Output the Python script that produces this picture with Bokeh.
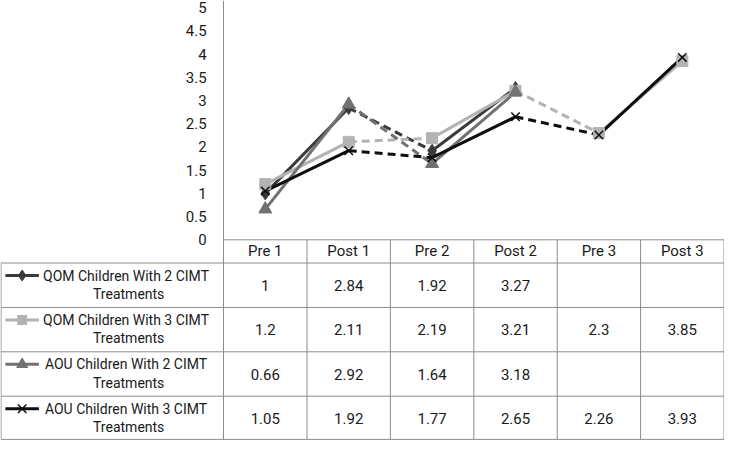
from bokeh.plotting import figure
from bokeh.models import Range1d, LinearAxis, FixedTicker, NumeralTickFormatter
from bokeh.core.properties import value
from bokeh.embed import file_html
from bokeh.resources import INLINE

# ---- data ----
categories = ["Pre 1", "Post 1", "Pre 2", "Post 2", "Pre 3", "Post 3"]
series_line1 = ["QOM Children With 2 CIMT", "QOM Children With 3 CIMT",
                "AOU Children With 2 CIMT", "AOU Children With 3 CIMT"]
series_line2 = ["Treatments", "Treatments", "Treatments", "Treatments"]
qom2 = [1, 2.84, 1.92, 3.27, None, None]
qom3 = [1.2, 2.11, 2.19, 3.21, 2.3, 3.85]
aou2 = [0.66, 2.92, 1.64, 3.18, None, None]
aou3 = [1.05, 1.92, 1.77, 2.65, 2.26, 3.93]
y_ticks = [0, 0.5, 1, 1.5, 2, 2.5, 3, 3.5, 4, 4.5, 5]

# ---- styles ----
FONT_NAME = "Roboto"
FONT = value(FONT_NAME)
FS = "15px"
FS_LEG = "14px"
TXT = "#1a1a1a"
GRIDC = "#8c8c8c"
styles = [
    dict(color="#3a3a3a", marker="diamond", size=13),
    dict(color="#b3b3b3", marker="square", size=11),
    dict(color="#717171", marker="triangle", size=13),
    dict(color="#0e0e0e", marker="x", size=12),
]
series = [qom2, qom3, aou2, aou3]

W, H = 724, 440
p = figure(width=W, height=H, x_range=Range1d(-3.175, 5.506), y_range=Range1d(-4.324, 5.156),
           x_axis_location=None, y_axis_location=None, toolbar_location=None,
           output_backend="svg", min_border=0, outline_line_color=None)
p.xgrid.visible = False
p.ygrid.visible = False

yaxis = LinearAxis(fixed_location=-0.5, ticker=FixedTicker(ticks=y_ticks),
                   formatter=NumeralTickFormatter(format="0.[0]"),
                   axis_line_color=GRIDC, axis_line_width=1,
                   major_tick_line_color=None, minor_tick_line_color=None,
                   major_label_text_font=FONT_NAME,
                   major_label_text_font_size=FS, major_label_text_color=TXT,
                   major_label_standoff=11)
p.add_layout(yaxis, "left")

# ---- table grid ----
n = len(categories)
rh = 0.9565
left = -3.169
row_lines = [-0.5 - rh * k for k in range(len(series) + 1)]
row_lines[-1] = -4.30
p.segment(x0=[-0.5], y0=[0], x1=[n - 0.5], y1=[0], line_color=GRIDC, line_width=1)
p.segment(x0=[left] * len(row_lines), y0=row_lines, x1=[n - 0.5] * len(row_lines), y1=row_lines,
          line_color=GRIDC, line_width=1)
vx = [i - 0.5 for i in range(1, n + 1)]
p.segment(x0=vx, y0=[0] * len(vx), x1=vx, y1=[row_lines[-1]] * len(vx), line_color=GRIDC, line_width=1)
p.segment(x0=[left], y0=[-0.5], x1=[left], y1=[row_lines[-1]], line_color=GRIDC, line_width=1)

# header labels
p.text(x=list(range(n)), y=[-0.25] * n, text=categories, text_align="center", text_baseline="middle",
       text_font=FONT, text_font_size=FS, text_color=TXT)

# ---- lines ----
for s, st in zip(series, styles):
    sx0, sy0, sx1, sy1 = [], [], [], []
    dx0, dy0, dx1, dy1 = [], [], [], []
    for i in range(n - 1):
        if s[i] is None or s[i + 1] is None:
            continue
        if i % 2 == 0:
            sx0.append(i); sy0.append(s[i]); sx1.append(i + 1); sy1.append(s[i + 1])
        else:
            dx0.append(i); dy0.append(s[i]); dx1.append(i + 1); dy1.append(s[i + 1])
    p.segment(x0=sx0, y0=sy0, x1=sx1, y1=sy1, line_color=st["color"], line_width=3, line_cap="round")
    p.segment(x0=dx0, y0=dy0, x1=dx1, y1=dy1, line_color=st["color"], line_width=3, line_dash="8 5")
for s, st in zip(series, styles):
    xs = [i for i in range(n) if s[i] is not None]
    ys = [s[i] for i in xs]
    if st["marker"] == "x":
        p.scatter(xs, ys, marker="x", size=st["size"], line_color=st["color"], line_width=1.5)
    else:
        p.scatter(xs, ys, marker=st["marker"], size=st["size"], fill_color=st["color"], line_color=st["color"])

# ---- table rows ----
for r, (s, st) in enumerate(zip(series, styles)):
    top = row_lines[r]
    yc = top - rh / 2
    l1 = top - 0.27
    l2 = top - 0.665
    p.segment(x0=[-3.116], y0=[l1], x1=[-2.715], y1=[l1], line_color=st["color"], line_width=3)
    if st["marker"] == "x":
        p.scatter([-2.915], [l1], marker="x", size=st["size"], line_color=st["color"], line_width=1.5)
    else:
        p.scatter([-2.915], [l1], marker=st["marker"], size=st["size"] - 2,
                  fill_color=st["color"], line_color=st["color"])
    p.text(x=[-1.670], y=[l1], text=[series_line1[r]], text_align="center", text_baseline="middle",
           text_font=FONT, text_font_size=FS_LEG, text_color=TXT)
    p.text(x=[-1.638], y=[l2], text=[series_line2[r]], text_align="center", text_baseline="middle",
           text_font=FONT, text_font_size=FS_LEG, text_color=TXT)
    xs = [i for i in range(n) if s[i] is not None]
    p.text(x=xs, y=[yc] * len(xs), text=[f"{s[i]:g}" for i in xs], text_align="center",
           text_baseline="middle", text_font=FONT, text_font_size=FS, text_color=TXT)

open("out.html", "w").write(file_html(p, INLINE))
